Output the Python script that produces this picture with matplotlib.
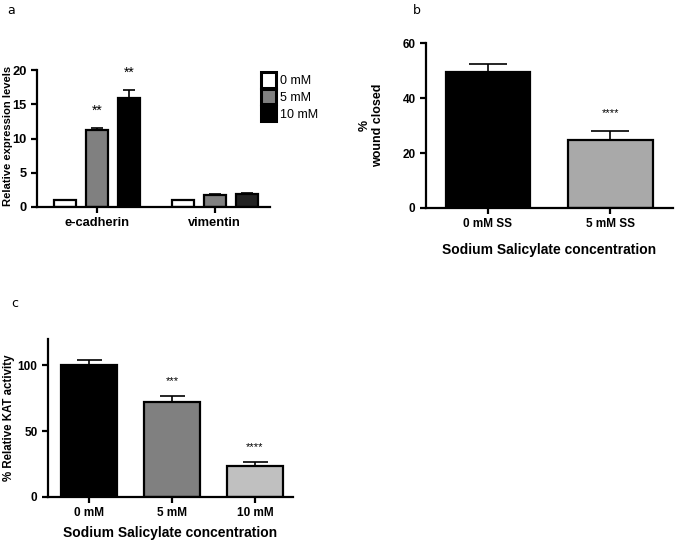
import numpy as np
import matplotlib.pyplot as plt

plt.rcParams["font.family"] = ["Liberation Sans", "DejaVu Sans"]

# panel a: relative expression
genes = ["e-cadherin", "vimentin"]
doses_a = ["0 mM", "5 mM", "10 mM"]
expr_mean = [[1.0, 1.0], [11.2, 1.7], [16.0, 1.9]]
expr_err = [[0.0, 0.0], [0.4, 0.2], [1.1, 0.15]]
expr_stars = [["", ""], ["**", ""], ["**", ""]]

# panel b: wound closure
groups_b = ["0 mM SS", "5 mM SS"]
wound_mean = [49.5, 24.8]
wound_err = [3.0, 3.2]
wound_stars = ["", "****"]

# panel c: KAT activity
groups_c = ["0 mM", "5 mM", "10 mM"]
kat_mean = [100.0, 72.5, 23.5]
kat_err = [4.0, 4.5, 3.0]
kat_stars = ["", "***", "****"]

LW = 1.6


def style_axes(ax, size=8.5):
    for side in ["top", "right"]:
        ax.spines[side].set_visible(False)
    for side in ["left", "bottom"]:
        ax.spines[side].set_linewidth(LW)
    ax.tick_params(width=LW, length=4, direction="out", labelsize=size)
    for lab in ax.get_xticklabels() + ax.get_yticklabels():
        lab.set_fontweight("bold")


fig = plt.figure(figsize=(6.75, 5.4), dpi=100)

# ---------------------------
# Panel a
# ---------------------------
ax_a = fig.add_axes([0.055, 0.617, 0.345, 0.253])
colors_a = ["white", "#808080", "black"]
x = np.arange(len(genes))
offset = 0.272
width = 0.187
for i, dose in enumerate(doses_a):
    pos = x + (i - 1) * offset
    c = colors_a[i]
    bar_cols = [c, "#222222"] if i == 2 else c
    ax_a.bar(pos, expr_mean[i], width, color=bar_cols, edgecolor="black",
             linewidth=LW, label=dose, zorder=2)
    ax_a.errorbar(pos, expr_mean[i], yerr=[[0, 0], expr_err[i]], fmt="none",
                  ecolor="black", elinewidth=1.2, capsize=4, capthick=1.2, zorder=1)
    for p, m, e, s in zip(pos, expr_mean[i], expr_err[i], expr_stars[i]):
        if s:
            ax_a.text(p, m + e + 2.5, s, ha="center", va="center", fontsize=10,
                      clip_on=False)
ax_a.set_xlim(-0.51, 1.47)
ax_a.set_ylim(0, 20)
ax_a.set_yticks([0, 5, 10, 15, 20])
ax_a.set_xticks(x)
ax_a.set_xticklabels(genes)
ax_a.set_ylabel("Relative expression levels", fontsize=8.1, fontweight="bold")
ax_a.yaxis.set_label_coords(-0.105, 0.52)
style_axes(ax_a, size=9.3)
leg = ax_a.legend(loc="upper left", bbox_to_anchor=(0.94, 1.02), frameon=False,
                  fontsize=9, handlelength=1.2, handleheight=1.5,
                  handletextpad=0.3, labelspacing=0.12, borderaxespad=0)
for h in leg.legend_handles:
    h.set_linewidth(2.2)
fig.text(0.011, 0.992, "a", fontsize=9, va="top", family="DejaVu Sans")

# ---------------------------
# Panel b
# ---------------------------
ax_b = fig.add_axes([0.631, 0.615, 0.366, 0.305])
xb = np.arange(len(groups_b))
ax_b.bar(xb, wound_mean, 0.686, color=["black", "#a9a9a9"], edgecolor="black",
         linewidth=LW, zorder=2)
ax_b.errorbar(xb, wound_mean, yerr=[[0, 0], wound_err], fmt="none",
              ecolor="black", elinewidth=1.2, capsize=14, capthick=1.2, zorder=1)
for p, m, e, s in zip(xb, wound_mean, wound_err, wound_stars):
    if s:
        ax_b.text(p, m + e + 6.5, s, ha="center", va="center", fontsize=8)
ax_b.set_xlim(-0.506, 1.51)
ax_b.set_ylim(0, 60)
ax_b.set_yticks([0, 20, 40, 60])
ax_b.set_xticks(xb)
ax_b.set_xticklabels(groups_b)
ax_b.set_ylabel("%\nwound closed", fontsize=9, fontweight="bold", labelpad=13)
ax_b.set_xlabel("Sodium Salicylate concentration", fontsize=10,
                fontweight="bold", labelpad=9)
style_axes(ax_b)
fig.text(0.612, 0.992, "b", fontsize=9, va="top", family="DejaVu Sans")

# ---------------------------
# Panel c
# ---------------------------
ax_c = fig.add_axes([0.071, 0.080, 0.363, 0.292])
xc = np.arange(len(groups_c))
ax_c.bar(xc, kat_mean, 0.68, color=["black", "#808080", "#c0c0c0"],
         edgecolor="black", linewidth=LW, zorder=2)
ax_c.errorbar(xc, kat_mean, yerr=[[0, 0, 0], kat_err], fmt="none",
              ecolor="black", elinewidth=1.2, capsize=9, capthick=1.2, zorder=1)
for p, m, e, s in zip(xc, kat_mean, kat_err, kat_stars):
    if s:
        ax_c.text(p, m + e + 11, s, ha="center", va="center", fontsize=8)
ax_c.set_xlim(-0.5, 2.46)
ax_c.set_ylim(0, 120)
ax_c.set_yticks([0, 50, 100])
ax_c.set_xticks(xc)
ax_c.set_xticklabels(groups_c)
ax_c.set_ylabel("% Relative KAT activity", fontsize=8.3, fontweight="bold",
                labelpad=2)
ax_c.set_xlabel("Sodium Salicylate concentration", fontsize=10,
                fontweight="bold", labelpad=5)
style_axes(ax_c)
fig.text(0.016, 0.45, "c", fontsize=9, va="top", family="DejaVu Sans")

fig.savefig("out.png", dpi=100)
